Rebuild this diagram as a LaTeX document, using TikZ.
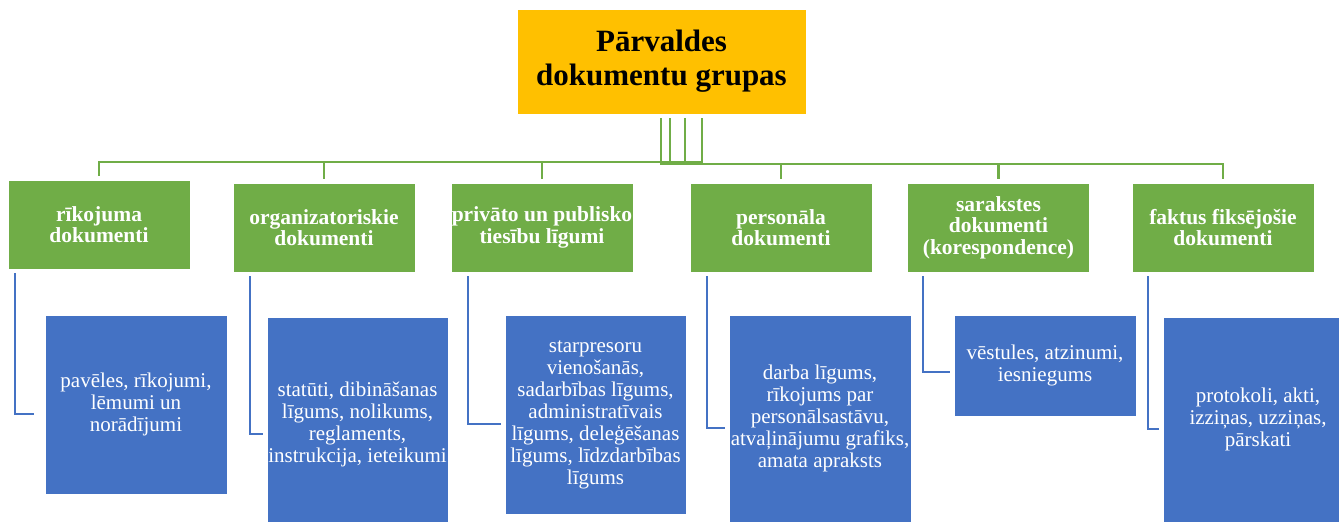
\documentclass[tikz,border=0pt]{standalone}
\usepackage{fontspec}
\setmainfont{Liberation Serif}
\usetikzlibrary{positioning}
\definecolor{rootc}{HTML}{FFC000}
\definecolor{greenc}{HTML}{70AD47}
\definecolor{bluec}{HTML}{4472C4}
\tikzset{
  rootbox/.style={fill=rootc, draw=white, line width=0.6pt, inner sep=0pt, align=center,
    font=\fontsize{31}{34}\selectfont\bfseries, text=black},
  gbox/.style={fill=greenc, draw=white, line width=0.6pt, inner sep=0pt, align=center,
    minimum width=182pt, minimum height=89pt, font=\fontsize{21.5}{21.5}\selectfont\bfseries, text=white},
  bbox/.style={fill=bluec, draw=white, line width=0.6pt, inner sep=0pt, align=center,
    minimum width=182pt, font=\fontsize{21}{22}\selectfont, text=white},
  gline/.style={draw=greenc, line width=2.2pt, shorten <=4pt, shorten >=4pt},
  bline/.style={draw=bluec, line width=2.4pt, shorten <=4pt, shorten >=4pt}
}
\begin{document}
\begin{tikzpicture}[x=1pt,y=-1pt]
\useasboundingbox (0,0) rectangle (1339,522);
\clip (0,0) rectangle (1339,522);
% root
\node[rootbox, minimum width=289pt, minimum height=105pt] (root) at (661.5,61.5) {Pārvaldes\\dokumentu grupas};
% green boxes
\node[gbox] (g1) at (99,224.5) {rīkojuma\\dokumenti};
\node[gbox] (g2) at (324,227.5) {organizatoriskie\\dokumenti};
\node[gbox] (g3) at (542,227.5) {privāto un publisko\\tiesību līgumi};
\node[gbox] (g4) at (781,227.5) {personāla\\dokumenti};
\node[gbox] (g5) at (998.5,227.5) {sarakstes\\dokumenti\\(korespondence)};
\node[gbox] (g6) at (1223,227.5) {faktus fiksējošie\\dokumenti};
% blue boxes
\node[bbox, minimum height=179pt] (b1) at (136,404.5) {pavēles, rīkojumi,\\lēmumi un\\norādījumi};
\node[bbox, minimum width=181pt, minimum height=215pt] (b2) at (357.5,424.5) {statūti, dibināšanas\\līgums, nolikums,\\reglaments,\\instrukcija, ieteikumi};
\node[bbox, minimum width=181pt, minimum height=199pt] (b3) at (595.5,414.5) {starpresoru\\vienošanās,\\sadarbības līgums,\\administratīvais\\līgums, deleģēšanas\\līgums, līdzdarbības\\līgums};
\node[bbox, minimum height=207pt] (b4) at (820,418.5) {darba līgums,\\rīkojums par\\personālsastāvu,\\atvaļinājumu grafiks,\\amata apraksts};
\node[bbox, minimum height=101pt] (b5) at (1045,365.5) {vēstules, atzinumi,\\iesniegums};
\node[bbox, minimum width=190pt, minimum height=205pt] (b6) at (1258,419.5) {protokoli, akti,\\izziņas, uzziņas,\\pārskati};
% green connectors
\draw[gline] ([xshift=40.5pt]root.south) -- ++(0,47.5) -| (g1.north);
\draw[gline] ([xshift=23.5pt]root.south) -- ++(0,47.5) -| (g2.north);
\draw[gline] ([xshift=8.5pt]root.south) -- ++(0,47.5) -| (g3.north);
\draw[gline] ([xshift=-0.5pt]root.south) -- ++(0,49.5) -| (g4.north);
\draw[gline] ([xshift=-0.5pt]root.south) -- ++(0,49.5) -| (g5.north);
\draw[gline] ([xshift=-0.5pt]root.south) -- ++(0,49.5) -| (g6.north);
% blue connectors
\draw[bline, shorten >=11pt] ([xshift=7pt]g1.south west) |- ([yshift=-9.5pt]b1.west);
\draw[bline] ([xshift=17pt]g2.south west) |- ([yshift=-9.5pt]b2.west);
\draw[bline] ([xshift=17pt]g3.south west) |- ([yshift=-9.5pt]b3.west);
\draw[bline] ([xshift=17pt]g4.south west) |- ([yshift=-9.5pt]b4.west);
\draw[bline] ([xshift=16pt]g5.south west) |- ([yshift=-6.5pt]b5.west);
\draw[bline] ([xshift=16pt]g6.south west) |- ([yshift=-9.5pt]b6.west);
\end{tikzpicture}
\end{document}
